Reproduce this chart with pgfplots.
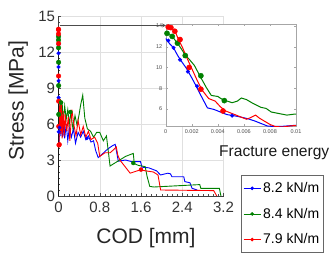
\documentclass[border=0pt]{standalone}
\usepackage{fontspec}
\setmainfont{Liberation Sans}
\usepackage{pgfplots}
\pgfplotsset{compat=1.18}
\usepackage{pgfplotstable}
\definecolor{cb}{RGB}{0,0,255}
\definecolor{cg}{RGB}{0,128,0}
\definecolor{cr}{RGB}{255,0,0}

\pgfplotstableread{
x y
0 12.8
0.0003 12.3
0.0006 11.9
0.0009 11.2
0.00115 10.7
0.0016 9.9
0.002 9.0
0.0023 8.3
0.0027 7.3
0.0032 6.1
0.0037 5.95
0.0042 5.7
0.0047 5.45
0.0052 5.35
0.0058 5.2
0.0063 5.05
0.0068 4.85
0.0073 4.6
0.0078 4.35
0.0083 4.3
0.0088 4.3
0.0093 4.35
0.0098 4.4
0.01 4.4
}\blueIn
\pgfplotstableread{
x y
0 13.3
0.0003 13.15
0.0005 13.0
0.0009 12.35
0.0012 11.8
0.0015 11.2
0.0018 10.8
0.0022 10.2
0.0026 9.25
0.0031 8.1
0.0035 7.3
0.0040 7.2
0.0043 6.95
0.0046 6.8
0.0051 6.6
0.0055 6.75
0.0058 7.05
0.0062 6.9
0.0066 6.6
0.0073 6.15
0.0077 6.05
0.0081 5.7
0.0085 5.6
0.0089 5.5
0.0093 5.4
0.0099 5.5
0.01 5.5
}\greenIn
\pgfplotstableread{
x y
0 13.95
0.0004 13.85
0.0007 13.55
0.001 12.65
0.0013 11.9
0.0016 11.0
0.002 9.9
0.0024 8.8
0.0028 7.8
0.0033 7.0
0.0038 6.75
0.0042 6.2
0.0046 5.8
0.0051 5.55
0.0056 5.3
0.0062 5.0
0.0065 5.15
0.0069 5.4
0.0072 5.1
0.0076 4.8
0.0080 4.5
0.0084 4.3
0.0090 4.25
0.0095 4.35
0.0100 4.4
}\redIn
\pgfplotstableread{
x y
0.0002 12.6
0.0006 11.9
0.0011 10.75
0.0017 9.6
0.0024 8.2
0.0051 5.35
}\blueMk
\pgfplotstableread{
x y
0.0001 13.3
0.0005 13.0
0.0009 12.35
0.0015 11.15
0.0027 9.2
0.0045 6.8
}\greenMk
\pgfplotstableread{
x y
0.0002 13.9
0.0004 13.85
0.0007 13.5
0.0011 12.7
0.0018 10.0
0.0027 7.9
0.0044 5.8
0.0091 4.25
}\redMk
\pgfplotstableread{
x y
0.01 4.4
0.02 5.8
0.03 6.3
0.045 5.0
0.06 6.6
0.08 4.9
0.1 5.9
0.12 4.8
0.15 6.0
0.18 4.6
0.21 5.7
0.25 4.9
0.29 5.6
0.33 4.4
0.38 5.3
0.43 4.9
0.48 5.4
0.53 4.7
0.58 5.0
0.63 4.5
0.68 4.6
0.72 3.8
0.77 3.2
0.85 3.5
0.95 3.9
1.05 4.2
1.1 4.3
1.13 3.6
1.16 2.9
1.3 3.0
1.42 2.86
1.59 2.86
1.62 2.4
1.75 2.35
1.9 2.1
1.98 1.75
2.12 1.9
2.17 1.85
2.2 1.6
2.43 1.6
2.45 1.2
2.55 1.1
2.59 0.64
2.69 0.5
}\blueMain
\pgfplotstableread{
x y
0.01 5.5
0.02 7.2
0.035 8.1
0.05 6.6
0.07 7.9
0.09 6.0
0.12 7.5
0.15 6.4
0.18 7.2
0.21 6.0
0.24 6.9
0.28 5.6
0.32 6.7
0.36 5.9
0.4 6.8
0.43 7.6
0.47 8.4
0.51 6.5
0.56 5.6
0.62 5.4
0.68 4.9
0.74 5.3
0.8 5.3
0.87 4.6
0.93 5.0
1.0 2.5
1.15 2.9
1.3 3.3
1.45 3.55
1.47 2.7
1.55 2.55
1.68 2.45
1.72 1.6
1.77 0.8
1.85 0.75
2.74 0.95
2.76 0.64
3.12 0.64
3.15 0
}\greenMain
\pgfplotstableread{
x y
0.01 4.4
0.015 5.8
0.025 7.8
0.04 5.2
0.055 7.6
0.07 4.8
0.09 7.1
0.11 5.0
0.13 6.8
0.16 5.4
0.19 6.6
0.22 4.6
0.26 7.2
0.3 5.9
0.34 5.0
0.38 6.3
0.43 5.1
0.48 5.8
0.53 4.9
0.58 5.4
0.63 4.7
0.7 4.9
0.76 4.4
0.8 3.3
0.9 3.6
1.0 3.6
1.08 3.9
1.12 4.1
1.15 3.4
1.19 3.0
1.39 1.9
1.58 2.17
1.84 2.0
1.93 1.75
1.98 0.5
3.01 0.45
3.07 0
}\redMain

\begin{document}
\begin{tikzpicture}[x=1pt,y=1pt]
\useasboundingbox (0,0) rectangle (332,257);
\begin{axis}[
  name=main, at={(58.5pt,61pt)}, anchor=south west,
  scale only axis, width=165pt, height=180pt,
  xmin=0, xmax=3.2, ymin=0, ymax=15,
  axis lines*=left,
  axis line style={black!75},
  xtick={0,0.8,1.6,2.4,3.2}, ytick={0,3,6,9,12,15},
  minor x tick num=7, minor y tick num=5,
  grid=major, major grid style={black!12},
  tick align=inside, tick style={black!70},
  major tick length=3pt, minor tick length=2pt,
  /pgf/number format/assume math mode=true,
  tick label style={font=\fontsize{15}{15}\selectfont, text=black!80},
  xticklabel style={yshift=-2pt},
  xlabel={COD [mm]}, ylabel={Stress [MPa]},
  label style={font=\fontsize{21}{21}\selectfont, text=black!85},
  xlabel style={at={(axis description cs:0.53,-0.235)}, anchor=center},
  ylabel style={at={(axis description cs:-0.245,0.53)}, anchor=center, rotate=0},
  legend style={at={(1.106,0.115)}, anchor=north west, draw=black!60,
    font=\fontsize{14}{14}\selectfont, row sep=10pt, inner xsep=2pt, inner ysep=5pt},
  legend cell align=left,
]
\addlegendimage{cb, line width=0.9pt, mark=*, mark size=1.3pt}
\addlegendentry{8.2 kN/m}
\addlegendimage{cg, line width=0.9pt, mark=*, mark size=1.3pt}
\addlegendentry{8.4 kN/m}
\addlegendimage{cr, line width=0.9pt, mark=*, mark size=1.3pt}
\addlegendentry{7.9 kN/m}
\addplot[cb, line width=0.9pt, forget plot] table {\blueMain};
\addplot[cg, line width=0.9pt, forget plot] table {\greenMain};
\addplot[cr, line width=0.9pt, forget plot] table {\redMain};
\addplot[black, line width=1.3pt, forget plot] coordinates {(0,0) (0,14.05)};
\addplot[cb, only marks, mark=*, mark size=1.8pt, forget plot] table {\blueMk};
\addplot[cg, only marks, mark=*, mark size=2.3pt, forget plot] table {\greenMk};
\addplot[cr, only marks, mark=*, mark size=2.3pt, forget plot] table {\redMk};
\addplot[cg, only marks, mark=*, mark size=2pt, forget plot] coordinates {(0.05,7.8) (0.23,7.0) (1.45,2.75)};
\addplot[cr, only marks, mark=*, mark size=2pt, forget plot] coordinates {(0.02,4.3) (0.1,6.0) (1.6,2.2)};
\addplot[cb, only marks, mark=*, mark size=1.6pt, forget plot] coordinates {(0.02,5.7) (0.55,4.8)};
\end{axis}
\node[font=\fontsize{15.6}{16}\selectfont, text=black!90, anchor=west, inner sep=0pt] at (219,104) {Fracture energy};
\begin{axis}[
  name=inset, at={(165.7pt,130.5pt)}, anchor=south west,
  scale only axis, width=130.3pt, height=102.5pt,
  xmin=0, xmax=0.01, ymin=4.3, ymax=14.2,
  axis background/.style={fill=white},
  axis line style={black!35},
  tick style={black!35}, tick align=inside,
  major tick length=2pt,
  xtick={0,0.002,0.004,0.006,0.008,0.01},
  xticklabels={0,0.002,0.004,0.006,0.008,0.01},
  ytick={6,8,10,12,14},
  scaled x ticks=false,
  /pgf/number format/assume math mode=true,
  tick label style={font=\fontsize{5.5}{6}\selectfont, text=black!70},
]
\addplot[cb, line width=1pt] table {\blueIn};
\addplot[cg, line width=1pt] table {\greenIn};
\addplot[cr, line width=1pt] table {\redIn};
\addplot[cb, only marks, mark=*, mark size=1.8pt] table {\blueMk};
\addplot[cg, only marks, mark=*, mark size=2.6pt] table {\greenMk};
\addplot[cr, only marks, mark=*, mark size=2.6pt] table {\redMk};
\end{axis}
\draw[black!70, line width=0.8pt, -stealth] (59.5,231.5) -- (166,231.5);
\end{tikzpicture}
\end{document}
